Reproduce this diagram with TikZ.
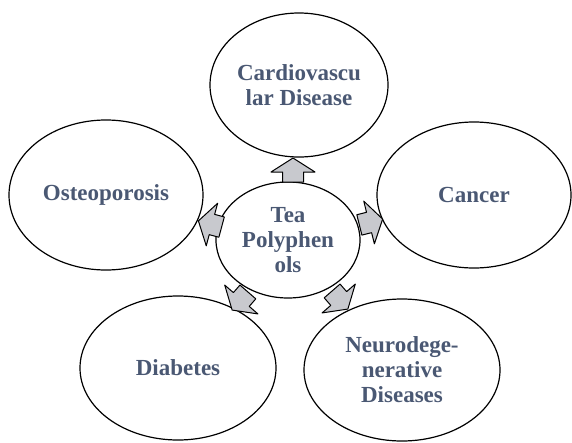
\documentclass[tikz,border=0pt]{standalone}
\usepackage{fontspec}
\setmainfont{Liberation Serif}
\usetikzlibrary{shapes.geometric}
\definecolor{txt}{RGB}{74,88,115}
\definecolor{arr}{RGB}{200,201,206}
\begin{document}
\begin{tikzpicture}[x=1pt,y=-1pt,
  bub/.style={ellipse,draw=black,line width=1.2pt,fill=white,inner sep=0pt,align=center,
    font=\fontsize{23}{25}\selectfont\bfseries,text=txt},
  blk/.pic={\draw[line width=1pt,fill=arr,line join=round]
    (-12,-10.5) -- (-2,-10.5) -- (-2,-22) -- (12,0) -- (-2,22) -- (-2,10.5) -- (-12,10.5) -- cycle;}]
\useasboundingbox (0,0) rectangle (572,442);
\node[bub,minimum width=178pt,minimum height=144pt] (cardio) at (299,85) {Cardiovascu\\lar Disease};
\node[bub,minimum width=194pt,minimum height=150pt] (osteo) at (106,195) {Osteoporosis};
\node[bub,minimum width=194pt,minimum height=146pt] (cancer) at (474,195) {Cancer};
\node[bub,minimum width=196pt,minimum height=144pt] (diab) at (178,368) {Diabetes};
\node[bub,minimum width=196pt,minimum height=142pt] (neuro) at (402,370) {Neurodege-\\nerative\\Diseases};
\node[bub,minimum width=144pt,minimum height=116pt] (tea) at (288,240) {Tea\\Polyphen\\ols};
\pic[rotate=90] at (293,170) {blk};
\pic[rotate=165] at (210,224) {blk};
\pic[rotate=14] at (371,222) {blk};
\pic[rotate=229] at (240,301) {blk};
\pic[rotate=-49] at (340,300) {blk};
\end{tikzpicture}
\end{document}
